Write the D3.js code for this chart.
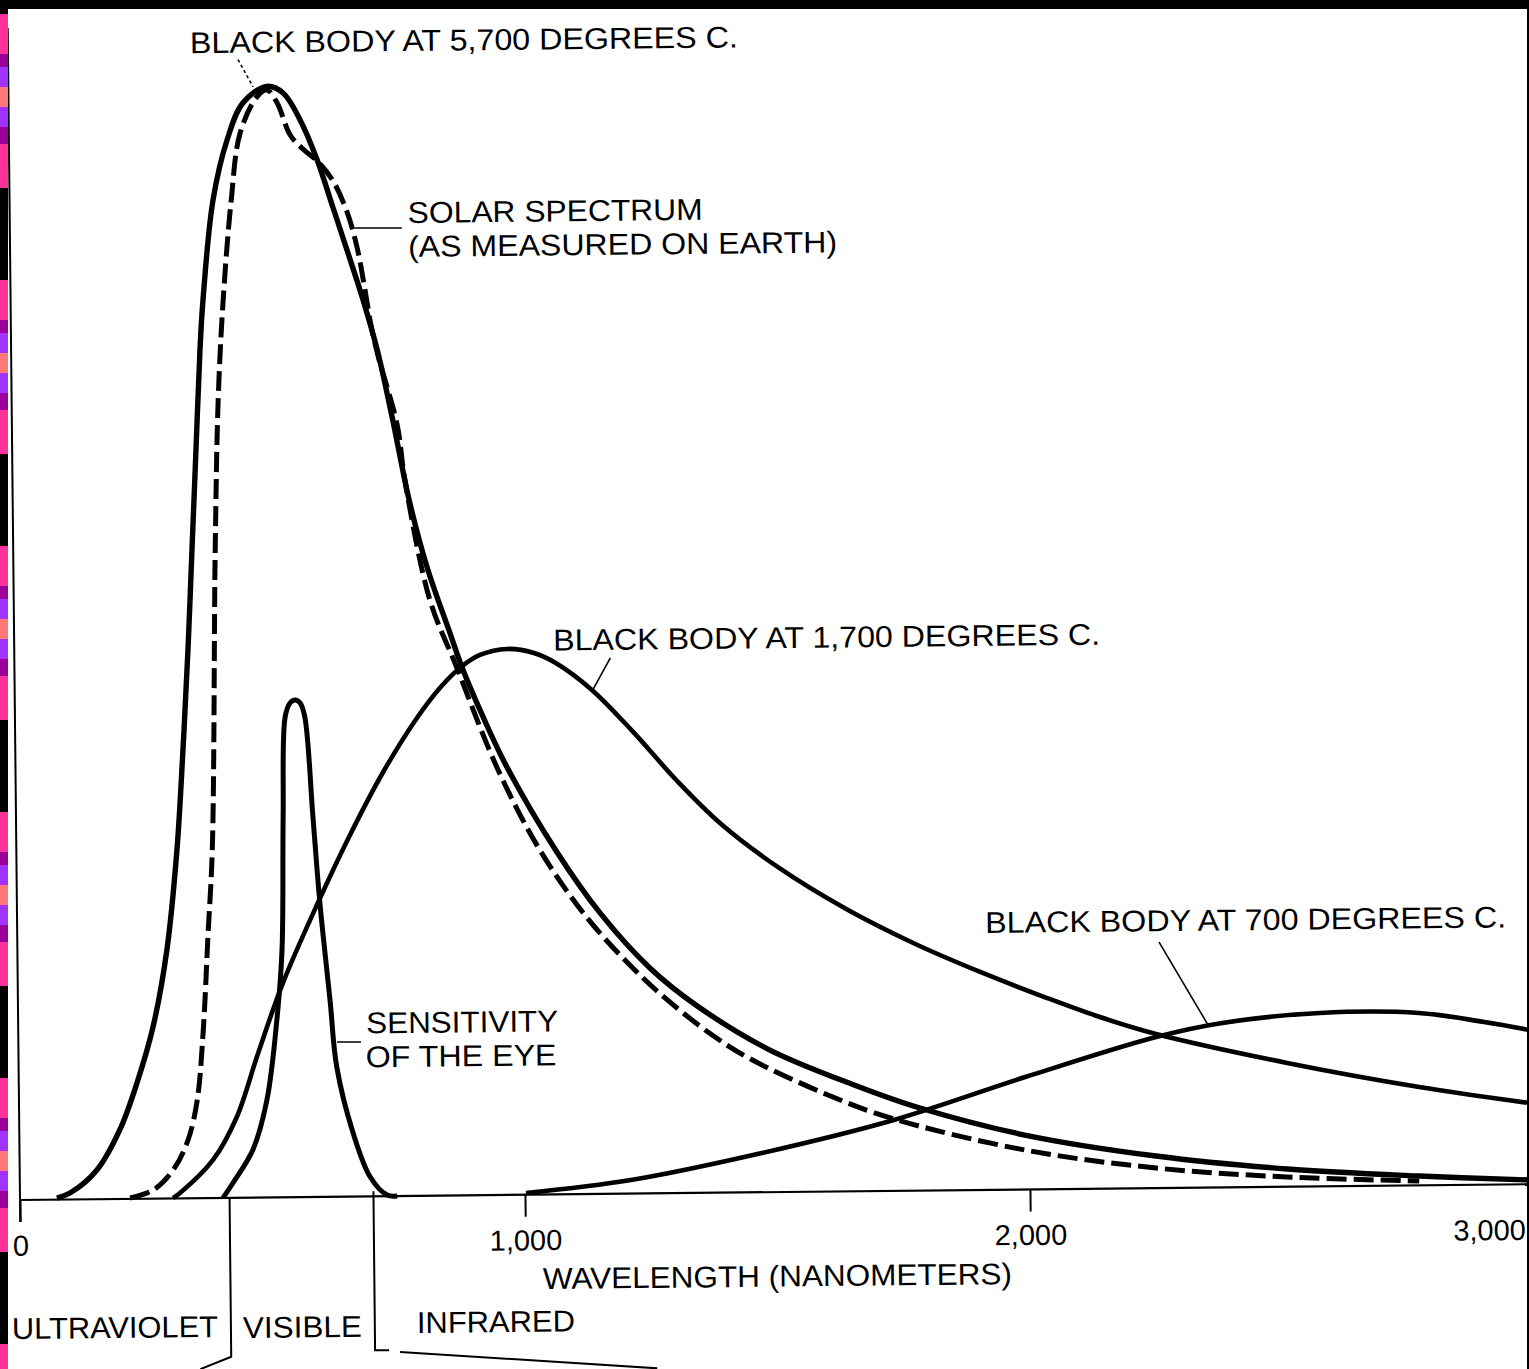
<!DOCTYPE html>
<html><head><meta charset="utf-8">
<script src="https://cdn.jsdelivr.net/npm/d3@7"></script>
<style>html,body{margin:0;padding:0;background:#fff;overflow:hidden;} svg{display:block;}</style>
</head><body><svg id="c" width="1529" height="1369"></svg>
<script>
// ---- data (wavelength in nm, relative intensity with 5,700 C peak = 100) ----
const wavelengthTicks = [0, 1000, 2000, 3000];
const tickLabels = ["0", "1,000", "2,000", "3,000"];
const bandEdges = [415, 700];
const bandNames = ["ULTRAVIOLET", "VISIBLE", "INFRARED"];

const blackBody5700 = [[73,0.14],[99,0.58],[153,2.63],[199,6.21],[234,10.42],[267,15.45],[296,22.36],[318,31.35],[332,40.35],[344,49.35],[354,58.34],[364,67.34],[374,76.34],[381,80.83],[403,89.83],[432,95.21],[464,98.53],[512,100],[544,99.39],[577,96.95],[610,93.33],[640,89.08],[669,84.93],[698,80.68],[725,76.17],[753,70.13],[785,62.64],[819,56.59],[863,50.63],[886,47.56],[927,43.04],[971,38.7],[1069,30.91],[1156,25.2],[1252,20.29],[1345,16.82],[1488,12.79],[1654,9.57],[1784,7.43],[1991,4.9],[2250,2.89],[2510,1.6],[2771,0.84],[2988,0.38]];

const solarSpectrum = [[218,0.08],[264,0.77],[304,2.56],[334,5.24],[353,8.83],[366,14.86],[378,23.85],[388,31.32],[400,58.32],[409,71.82],[421,80.82],[439,89.81],[458,95.83],[492,99.06],[512,99.68],[532,98.5],[557,95.6],[582,94.33],[612,93.15],[641,91.42],[668,88.62],[687,85.46],[702,81.58],[713,78.43],[726,75.72],[763,69.4],[777,64.44],[824,53.62],[874,47.74],[953,38.53],[1033,31.29],[1129,24.85],[1234,19.58],[1305,16.66],[1374,14.2],[1446,12.09],[1602,8.69],[1732,6.47],[1991,3.55],[2250,1.81],[2509,0.88],[2771,0.39]];

const eyeSensitivity = [[402,0],[422,1.33],[462,4.28],[491,8.77],[513,16.23],[524,22.26],[529,34.23],[535,43.22],[545,44.48],[555,44.75],[565,44.47],[574,43.21],[588,34.2],[600,26.45],[618,17.71],[630,11.67],[661,5.72],[694,1.74],[727,0.1],[747,0]];

const blackBody1700 = [[303,0.04],[317,0.48],[383,3.42],[431,7.27],[474,12.92],[525,19.28],[594,26.27],[661,32.54],[728,38.18],[796,43.01],[842,45.69],[882,47.47],[922,48.62],[976,49.14],[1029,48.75],[1072,47.83],[1143,45.37],[1222,41.64],[1310,37.09],[1396,33.18],[1510,29.17],[1642,25.41],[1774,22.29],[1906,19.62],[2038,17.21],[2142,15.45],[2253,13.87],[2512,11.14],[2773,8.85],[2990,7.31]];

const blackBody700 = [[1002,0.15],[1210,1.22],[1470,3.53],[1732,6.38],[1993,10.12],[2253,13.6],[2384,14.8],[2578,15.61],[2774,15.51],[2903,14.64],[2992,13.88]];

// ---- drawing ----
const svg = d3.select("#c");
const W = 1529, H = 1369;
svg.append("rect").attr("width", W).attr("height", H).attr("fill", "#fff");

const x = d3.scaleLinear().domain([0, 3000]).range([0, 1515]);
const y = d3.scaleLinear().domain([0, 100]).range([0, -1111]);

// the scanned figure is tilted slightly
const g = svg.append("g").attr("transform", "translate(20,1200) rotate(-0.6)");
const FONT = "'Liberation Sans', Arial, Helvetica, sans-serif";

// axes
g.append("line").attr("x1", x(0)).attr("x2", x(3000) + 30).attr("y1", y(0)).attr("y2", y(0))
  .attr("stroke", "#000").attr("stroke-width", 2.2);
g.append("line").attr("x1", x(0)).attr("x2", x(0)).attr("y1", 22).attr("y2", -1172)
  .attr("stroke", "#000").attr("stroke-width", 2);

const ax = g.append("g").call(
  d3.axisBottom(x).tickValues(wavelengthTicks).tickSize(22).tickPadding(13)
    .tickFormat((d, i) => tickLabels[i]));
ax.select(".domain").remove();
ax.selectAll(".tick line").attr("stroke", "#000").attr("stroke-width", 2);
ax.selectAll(".tick text").attr("fill", "#000").style("font-family", FONT).style("font-size", "29px");
ax.selectAll(".tick text").filter((d, i) => i === wavelengthTicks.length - 1)
  .attr("text-anchor", "end").attr("dx", -10);

// curves
const line = d3.line().x(d => x(d[0])).y(d => y(d[1])).curve(d3.curveCatmullRom.alpha(0.5));
const series = [
  {data: blackBody700, w: 4.6, dash: null},
  {data: blackBody1700, w: 4.6, dash: null},
  {data: eyeSensitivity, w: 5, dash: null},
  {data: solarSpectrum, w: 5, dash: "20,7"},
  {data: blackBody5700, w: 5.4, dash: null}
];
series.forEach(s => {
  g.append("path").attr("d", line(s.data)).attr("fill", "none").attr("stroke", "#000")
    .attr("stroke-width", s.w).attr("stroke-linejoin", "round")
    .attr("stroke-dasharray", s.dash);
});

// region dividers below the axis
g.append("path").attr("d", `M${x(bandEdges[0])},0 V159 L${x(bandEdges[0]) - 31},171`)
  .attr("fill", "none").attr("stroke", "#000").attr("stroke-width", 2);
g.append("path").attr("d", `M${x(bandEdges[1])},-5 V154 H${x(bandEdges[1]) + 14} M${x(bandEdges[1]) + 25},156 L${x(bandEdges[1]) + 282},175`)
  .attr("fill", "none").attr("stroke", "#000").attr("stroke-width", 2);

// leader lines
const leaders = [
  [230, -1138, 244.7, -1110.6, "3,3"],
  [345, -968.5, 392, -968, null],
  [596, -536, 577, -502, null],
  [1141.7, -246, 1189.8, -162.6, null],
  [318.7, -154.7, 342.7, -154.4, null]
];
leaders.forEach(l => {
  g.append("line").attr("x1", l[0]).attr("y1", l[1]).attr("x2", l[2]).attr("y2", l[3])
    .attr("stroke", "#000").attr("stroke-width", 1.6).attr("stroke-dasharray", l[4]);
});

// labels
const labels = [
  ["BLACK BODY AT 5,700 DEGREES C.", 182, -1145, 548],
  ["SOLAR SPECTRUM", 398, -973, 295],
  ["(AS MEASURED ON EARTH)", 398, -939, 429],
  ["BLACK BODY AT 1,700 DEGREES C.", 539, -544, 547],
  ["BLACK BODY AT 700 DEGREES C.", 968, -257, 521],
  ["SENSITIVITY", 348, -163, 192],
  ["OF THE EYE", 347, -129, 191],
  ["WAVELENGTH (NANOMETERS)", 522, 94.5, 469],
  [bandNames[0], -9.4, 139, 206],
  [bandNames[1], 221.6, 140.3, 119],
  [bandNames[2], 395.6, 137.2, 158]
];
labels.forEach(l => {
  g.append("text").text(l[0]).attr("x", l[1]).attr("y", l[2])
    .attr("textLength", l[3]).attr("lengthAdjust", "spacingAndGlyphs")
    .attr("fill", "#000").style("font-family", FONT).style("font-size", "30px");
});

// scan frame decorations
svg.append("rect").attr("x", 0).attr("y", 0).attr("width", W).attr("height", 9).attr("fill", "#000");
svg.append("rect").attr("x", W - 2).attr("y", 0).attr("width", 2).attr("height", H).attr("fill", "#000");
const stripe = [["#ff3399",40],["#990099",13],["#a033ff",20],["#ff7777",20],["#a033ff",20],["#990099",17],["#ff3399",44],["#000",92]];
for (let s0 = -252; s0 < H; s0 += 266) {
  let yy = s0;
  stripe.forEach(([c, h]) => {
    svg.append("rect").attr("x", 0).attr("y", yy).attr("width", 8).attr("height", h).attr("fill", c);
    yy += h;
  });
}
</script></body></html>
